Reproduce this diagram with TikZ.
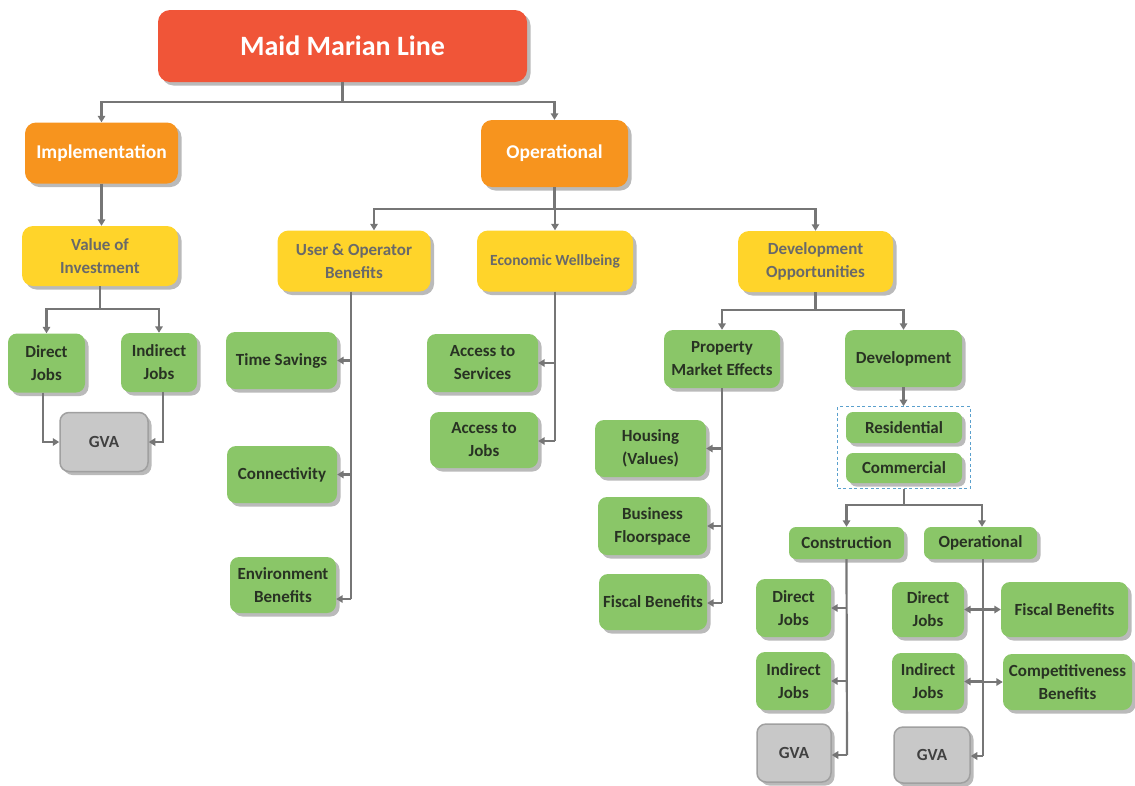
\documentclass[tikz,border=0pt]{standalone}
\usepackage{fontspec}
\setmainfont{Carlito}
\usetikzlibrary{arrows.meta,shadows,fit}
\definecolor{cRed}{RGB}{240,85,56}
\definecolor{cOrange}{RGB}{247,148,30}
\definecolor{cYellow}{RGB}{255,212,42}
\definecolor{cYText}{RGB}{105,105,105}
\definecolor{cGreen}{RGB}{138,198,104}
\definecolor{cGText}{RGB}{40,50,35}
\definecolor{cGray}{RGB}{200,200,200}
\definecolor{cGrayB}{RGB}{160,160,160}
\definecolor{cLine}{RGB}{118,118,118}
\definecolor{cDash}{RGB}{90,160,205}
\begin{document}
\begin{tikzpicture}[x=1pt,y=-1pt,
  sz/.style 2 args={minimum width=#1pt, minimum height=#2pt},
  box/.style={rounded corners=9pt, align=center, inner sep=0pt,
    font=\bfseries\fontsize{17}{23}\selectfont,
    drop shadow={shadow xshift=3.5pt, shadow yshift=-3.5pt, fill=black!45, opacity=0.6}},
  redbox/.style={box, fill=cRed, text=white, rounded corners=12pt, font=\bfseries\fontsize{28}{32}\selectfont},
  orbox/.style={box, fill=cOrange, text=white, rounded corners=11pt, font=\bfseries\fontsize{19.5}{24}\selectfont},
  yebox/.style={box, fill=cYellow, text=cYText, rounded corners=11pt},
  grbox/.style={box, fill=cGreen, text=cGText},
  gvbox/.style={box, fill=cGray, draw=cGrayB, line width=1.5pt, text=black!75},
  dashbox/.style={draw=cDash, line width=1.2pt, dash pattern=on 3pt off 2.5pt, inner xsep=8pt, inner ysep=5pt},
  ln/.style={draw=cLine, line width=2.2pt},
  ar/.style={ln, -{Triangle[length=6.5pt,width=7.5pt]}}
]
\useasboundingbox (0,0) rectangle (1135,785);

% top levels
\node[redbox, sz={369}{72}] (title) at (342.5,46) {Maid Marian Line};
\node[orbox, sz={153}{61}] (impl) at (101.5,153) {Implementation};
\node[orbox, sz={147}{67}] (oper) at (554.5,153.5) {Operational};

% yellow
\node[yebox, sz={156}{60}] (voi) at (100,256) {Value of\\Investment};
\node[yebox, sz={153}{61}] (uo) at (354,261) {User \& Operator\\Benefits};
\node[yebox, sz={156}{61}, font=\bfseries\fontsize{15.5}{20}\selectfont] (ew) at (555,261) {Economic Wellbeing};
\node[yebox, sz={155}{61}] (do) at (815.5,261.5) {Development\\Opportunities};

% implementation branch
\node[grbox, sz={77}{59}] (dj1) at (46.5,363) {Direct\\Jobs};
\node[grbox, sz={76}{59}] (ij1) at (159,362.5) {Indirect\\Jobs};
\node[gvbox, sz={88}{59}] (gva1) at (104,442) {GVA};

% user & operator branch
\node[grbox, sz={111}{57}] (ts) at (281.5,360.5) {Time Savings};
\node[grbox, sz={110}{57}] (con) at (282,474.5) {Connectivity};
\node[grbox, sz={106}{56}] (env) at (283,585) {Environment\\Benefits};

% economic wellbeing branch
\node[grbox, sz={111}{58}] (as) at (482.5,363) {Access to\\Services};
\node[grbox, sz={108}{56}] (aj) at (484,440) {Access to\\Jobs};

% development opportunities branch
\node[grbox, sz={116}{58}] (pme) at (722,359) {Property\\Market Effects};
\node[grbox, sz={117}{57}] (dev) at (903.5,358.5) {Development};
\node[grbox, sz={111}{57}] (hou) at (650.5,448.5) {Housing\\(Values)};
\node[grbox, sz={109}{58}] (bf) at (652.5,526) {Business\\Floorspace};
\node[grbox, sz={108}{56}] (fb1) at (653,602) {Fiscal Benefits};

\node[grbox, sz={116}{31}, rounded corners=7pt] (res) at (904,427.5) {Residential};
\node[grbox, sz={116}{30}, rounded corners=7pt] (com) at (904,468) {Commercial};
\node[dashbox, fit=(res)(com)] (dbox) {};

\node[grbox, sz={115}{32}, rounded corners=7pt] (cons) at (846.5,543) {Construction};
\node[grbox, sz={113}{32}, rounded corners=7pt] (oper2) at (980.5,543) {Operational};

\node[grbox, sz={75}{58}] (dj2) at (793.5,608) {Direct\\Jobs};
\node[grbox, sz={75}{58}] (ij2) at (793.5,681) {Indirect\\Jobs};
\node[gvbox, sz={74}{58}] (gva2) at (794,753) {GVA};

\node[grbox, sz={72}{55}] (dj3) at (928,609.5) {Direct\\Jobs};
\node[grbox, sz={72}{57}] (ij3) at (928,681.5) {Indirect\\Jobs};
\node[gvbox, sz={76}{56}] (gva3) at (932,755) {GVA};
\node[grbox, sz={127}{55}] (fb2) at (1064.5,609.5) {Fiscal Benefits};
\node[grbox, sz={129}{56}] (cb) at (1067.5,682) {Competitiveness\\Benefits};

% connectors
\coordinate (b1) at (342.5,102);
\draw[ln] (title.south) -- (b1);
\draw[ar] (b1) -| (impl.north);
\draw[ar] (b1) -| (oper.north);

\draw[ar] (impl.south) -- (impl.south |- voi.north);

\coordinate (b2) at (100,309);
\draw[ln] (voi.south) -- (b2);
\draw[ar] (b2) -| (dj1.north);
\draw[ar] (b2) -| (ij1.north);
\draw[ar] ([xshift=-3.5pt]dj1.south) |- (gva1.west);
\draw[ar] ([xshift=4pt]ij1.south) |- (gva1.east);

\coordinate (b3) at (554.5,209);
\draw[ln] (oper.south) -- (b3);
\draw[ar] (b3) -| ([xshift=20pt]uo.north);
\draw[ar] (b3) -| (ew.north);
\draw[ar] (b3) -| (do.north);

\coordinate (uoEnd) at (351,599);
\draw[ln] (uo.south -| uoEnd) -- (uoEnd);
\draw[ar] (uoEnd |- ts.east) -- (ts.east);
\draw[ar] (uoEnd |- con.east) -- (con.east);
\draw[ar] (uoEnd) -- (uoEnd -| env.east);

\coordinate (ewEnd) at (555,441);
\draw[ln] (ew.south) -- (ewEnd);
\draw[ar] (ewEnd |- as.east) -- (as.east);
\draw[ar] (ewEnd) -- (ewEnd -| aj.east);

\coordinate (b4) at (815.5,310);
\draw[ln] (do.south) -- (b4);
\draw[ar] (b4) -| (pme.north);
\draw[ar] (b4) -| (dev.north);

\coordinate (pmeEnd) at (722,603);
\draw[ln] (pme.south) -- (pmeEnd);
\draw[ar] (pmeEnd |- hou.east) -- (hou.east);
\draw[ar] (pmeEnd |- bf.east) -- (bf.east);
\draw[ar] (pmeEnd) -- (pmeEnd -| fb1.east);

\draw[ar] (dev.south) -- (dev.south |- dbox.north);

\coordinate (b5) at (904,505);
\draw[ln] (dbox.south) -- (b5);
\draw[ar] (b5) -| (cons.north);
\draw[ar] (b5) -| ([xshift=1.5pt]oper2.north);

\coordinate (consEnd) at (847,755);
\draw[ln] (cons.south) -- (consEnd);
\draw[ar] (consEnd |- dj2.east) -- (dj2.east);
\draw[ar] (consEnd |- ij2.east) -- (ij2.east);
\draw[ar] (consEnd) -- (consEnd -| gva2.east);

\coordinate (opEnd) at (983,756);
\draw[ln] (oper2.south -| opEnd) -- (opEnd);
\draw[ar] (opEnd |- dj3.east) -- (dj3.east);
\draw[ar] (opEnd |- ij3.east) -- (ij3.east);
\draw[ar] (opEnd) -- (opEnd -| gva3.east);
\draw[ar] (opEnd |- fb2.west) -- (fb2.west);
\draw[ar] (opEnd |- cb.west) -- (cb.west);
\end{tikzpicture}
\end{document}
